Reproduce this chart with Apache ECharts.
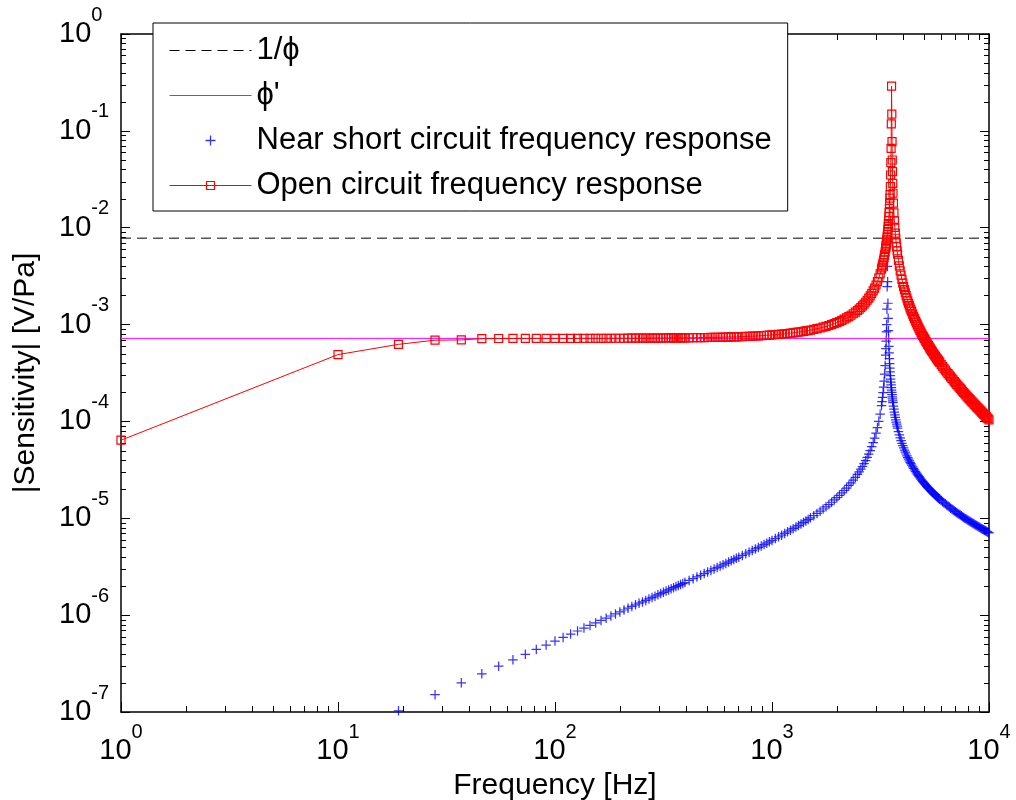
<!DOCTYPE html>
<html>
<head>
<meta charset="utf-8">
<title>Sensitivity</title>
<script src="https://cdn.jsdelivr.net/npm/echarts@6.0.0/dist/echarts.min.js"></script>
<style>
    html, body { margin: 0; padding: 0; background: #fff; }
    #chart { width: 1016px; height: 800px; }
</style>
</head>
<body>
<div id="chart"></div>
<script>
var FONT = '"Liberation Sans", Arial, Helvetica, sans-serif';

// 频率 (Hz)
var freq = [
    1, 10, 19, 28, 37, 46, 55, 64, 73, 82, 91, 100, 109, 118, 127, 136, 145, 154, 163, 172, 181, 190, 199, 208, 217, 226, 235, 244, 253, 262, 271, 280, 289, 298, 307, 316, 325, 334, 343, 352, 361, 370, 379, 388, 397,
    415, 433, 451, 469, 487, 505, 523, 541, 559, 577, 595, 613, 631, 649, 667, 685, 703,
    730, 757, 784, 811, 838, 865, 892, 919, 946, 973, 1000,
    1036, 1072, 1108, 1144, 1180, 1216, 1252, 1288, 1324, 1360, 1396, 1432, 1468, 1504,
    1558, 1612, 1666, 1720, 1774, 1828, 1882, 1936, 1990, 2044, 2098, 2152, 2206, 2260, 2314, 2368, 2422, 2476,
    2521, 2566, 2611, 2656, 2701, 2746, 2791, 2836, 2881, 2926, 2971, 3016, 3061, 3106, 3151, 3196,
    3214, 3232, 3250, 3268, 3286, 3304, 3322, 3340,
    3349, 3358, 3367, 3376, 3385, 3394, 3403, 3412, 3421, 3430, 3439, 3448, 3457, 3466, 3475, 3484, 3493, 3502, 3511, 3520, 3529, 3538, 3547, 3556, 3565, 3574, 3583, 3592, 3601, 3610,
    3628, 3646, 3664, 3682, 3700, 3718, 3736, 3754, 3772, 3790,
    3826, 3862, 3898, 3934, 3970, 4006, 4042, 4078, 4114, 4150, 4186, 4222, 4258, 4294, 4330, 4366, 4402,
    4447, 4492, 4537, 4582, 4627, 4672, 4717, 4762, 4807, 4852, 4897, 4942, 4987, 5032, 5077, 5122, 5167, 5212, 5257, 5302, 5347, 5392, 5437, 5482, 5527, 5572, 5617, 5662, 5707, 5752, 5797, 5842, 5887, 5932,
    6022, 6112, 6202, 6292, 6382, 6472, 6562, 6652, 6742, 6832, 6922, 7012, 7102, 7192, 7282, 7372, 7462, 7552, 7642, 7732, 7822, 7912, 8002, 8092, 8182, 8272, 8362, 8452, 8542, 8632, 8722, 8812, 8902, 8992, 9082, 9172, 9262, 9352, 9442, 9532, 9622, 9712, 9802, 9892, 10000
];

// Open circuit frequency response (V/Pa)
var openResp = [
    6.4e-5, 4.9e-4, 6.25e-4, 6.9e-4, 6.95e-4, 7.15e-4, 7.18e-4, 7.19e-4, 7.19e-4, 7.2e-4, 7.2e-4, 7.2e-4, 7.2e-4, 7.2e-4, 7.2e-4, 7.21e-4, 7.21e-4, 7.21e-4, 7.21e-4, 7.21e-4, 7.22e-4, 7.22e-4, 7.22e-4, 7.22e-4, 7.23e-4, 7.23e-4, 7.23e-4, 7.24e-4, 7.24e-4, 7.24e-4, 7.25e-4, 7.25e-4, 7.25e-4, 7.26e-4, 7.26e-4, 7.27e-4, 7.27e-4, 7.28e-4, 7.28e-4, 7.28e-4, 7.29e-4, 7.29e-4, 7.29e-4, 7.3e-4, 7.3e-4,
    7.3e-4, 7.31e-4, 7.32e-4, 7.33e-4, 7.34e-4, 7.35e-4, 7.36e-4, 7.37e-4, 7.38e-4, 7.39e-4, 7.41e-4, 7.42e-4, 7.43e-4, 7.45e-4, 7.46e-4, 7.48e-4, 7.49e-4,
    7.52e-4, 7.54e-4, 7.57e-4, 7.59e-4, 7.62e-4, 7.65e-4, 7.68e-4, 7.71e-4, 7.75e-4, 7.78e-4, 7.82e-4,
    7.87e-4, 7.92e-4, 7.97e-4, 8.03e-4, 8.09e-4, 8.15e-4, 8.22e-4, 8.29e-4, 8.36e-4, 8.43e-4, 8.51e-4, 8.59e-4, 8.68e-4, 8.77e-4,
    8.91e-4, 9.06e-4, 9.22e-4, 9.4e-4, 9.58e-4, 9.78e-4, 1.0e-3, 1.023e-3, 1.048e-3, 1.075e-3, 1.104e-3, 1.136e-3, 1.17e-3, 1.207e-3, 1.248e-3, 1.293e-3, 1.342e-3, 1.397e-3,
    1.447e-3, 1.501e-3, 1.561e-3, 1.627e-3, 1.701e-3, 1.782e-3, 1.873e-3, 1.976e-3, 2.093e-3, 2.227e-3, 2.381e-3, 2.562e-3, 2.775e-3, 3.032e-3, 3.345e-3, 3.737e-3,
    3.922e-3, 4.129e-3, 4.359e-3, 4.618e-3, 4.912e-3, 5.248e-3, 5.635e-3, 6.087e-3,
    6.34e-3, 6.62e-3, 6.92e-3, 7.26e-3, 7.63e-3, 8.04e-3, 8.5e-3, 9.02e-3, 9.6e-3, 1.03e-2, 1.1e-2, 1.19e-2, 1.3e-2, 1.43e-2, 1.58e-2, 1.77e-2, 2.02e-2, 2.2e-2, 2.65e-2, 3.5e-2, 4.7e-2, 6.6e-2, 0.118, 0.29, 0.149, 7.73e-2, 5.0e-2, 3.8e-2, 2.87e-2, 2.27e-2,
    1.79e-2, 1.42e-2, 1.18e-2, 1.01e-2, 8.78e-3, 7.78e-3, 6.98e-3, 6.33e-3, 5.78e-3, 5.32e-3,
    4.59e-3, 4.03e-3, 3.58e-3, 3.23e-3, 2.93e-3, 2.68e-3, 2.47e-3, 2.29e-3, 2.13e-3, 1.99e-3, 1.87e-3, 1.76e-3, 1.66e-3, 1.57e-3, 1.49e-3, 1.42e-3, 1.36e-3,
    1.28e-3, 1.21e-3, 1.15e-3, 1.09e-3, 1.04e-3, 9.93e-4, 9.49e-4, 9.09e-4, 8.71e-4, 8.37e-4, 8.04e-4, 7.74e-4, 7.46e-4, 7.19e-4, 6.94e-4, 6.71e-4, 6.49e-4, 6.28e-4, 6.08e-4, 5.89e-4, 5.72e-4, 5.55e-4, 5.39e-4, 5.24e-4, 5.09e-4, 4.95e-4, 4.82e-4, 4.69e-4, 4.57e-4, 4.46e-4, 4.35e-4, 4.24e-4, 4.14e-4, 4.04e-4,
    3.86e-4, 3.69e-4, 3.53e-4, 3.38e-4, 3.24e-4, 3.12e-4, 3.0e-4, 2.88e-4, 2.78e-4, 2.68e-4, 2.58e-4, 2.5e-4, 2.41e-4, 2.33e-4, 2.26e-4, 2.19e-4, 2.12e-4, 2.05e-4, 1.99e-4, 1.93e-4, 1.88e-4, 1.82e-4, 1.77e-4, 1.72e-4, 1.68e-4, 1.63e-4, 1.59e-4, 1.55e-4, 1.51e-4, 1.47e-4, 1.44e-4, 1.4e-4, 1.37e-4, 1.34e-4, 1.31e-4, 1.28e-4, 1.25e-4, 1.22e-4, 1.19e-4, 1.17e-4, 1.14e-4, 1.12e-4, 1.09e-4, 1.07e-4, 1.04e-4
];

// Near short circuit frequency response (V/Pa)，1 Hz 和 10 Hz 在坐标范围以下
var shortResp = [
    null, null, 1.03e-7, 1.51e-7, 2.0e-7, 2.48e-7, 2.97e-7, 3.46e-7, 3.94e-7, 4.43e-7, 4.91e-7, 5.4e-7, 5.89e-7, 6.37e-7, 6.86e-7, 7.35e-7, 7.83e-7, 8.32e-7, 8.82e-7, 9.31e-7, 9.8e-7, 1.03e-6, 1.08e-6, 1.13e-6, 1.18e-6, 1.23e-6, 1.28e-6, 1.33e-6, 1.37e-6, 1.42e-6, 1.47e-6, 1.52e-6, 1.57e-6, 1.62e-6, 1.67e-6, 1.72e-6, 1.77e-6, 1.82e-6, 1.87e-6, 1.92e-6, 1.97e-6, 2.02e-6, 2.07e-6, 2.12e-6, 2.17e-6,
    2.28e-6, 2.38e-6, 2.48e-6, 2.58e-6, 2.69e-6, 2.79e-6, 2.89e-6, 3.0e-6, 3.1e-6, 3.21e-6, 3.31e-6, 3.42e-6, 3.53e-6, 3.64e-6, 3.75e-6, 3.86e-6, 3.97e-6,
    4.13e-6, 4.3e-6, 4.47e-6, 4.64e-6, 4.82e-6, 4.99e-6, 5.17e-6, 5.35e-6, 5.54e-6, 5.72e-6, 5.91e-6,
    6.17e-6, 6.43e-6, 6.69e-6, 6.97e-6, 7.24e-6, 7.53e-6, 7.82e-6, 8.12e-6, 8.42e-6, 8.74e-6, 9.06e-6, 9.4e-6, 9.74e-6, 1.01e-5,
    1.064e-5, 1.122e-5, 1.183e-5, 1.247e-5, 1.315e-5, 1.387e-5, 1.464e-5, 1.545e-5, 1.633e-5, 1.726e-5, 1.827e-5, 1.936e-5, 2.054e-5, 2.182e-5, 2.323e-5, 2.478e-5, 2.649e-5, 2.839e-5,
    3.015e-5, 3.209e-5, 3.425e-5, 3.666e-5, 3.938e-5, 4.246e-5, 4.599e-5, 5.007e-5, 5.484e-5, 6.051e-5, 6.735e-5, 7.576e-5, 8.637e-5, 1.002e-4, 1.189e-4, 1.457e-4,
    1.6e-4, 1.772e-4, 1.985e-4, 2.254e-4, 2.605e-4, 3.082e-4, 3.769e-4, 4.842e-4,
    5.64e-4, 6.75e-4, 8.4e-4, 1.0e-3, 1.44e-3, 2.46e-3, 4.0e-3, 2.77e-3, 1.66e-3, 1.16e-3, 8.65e-4, 7.16e-4, 5.95e-4, 5.09e-4, 4.45e-4, 3.96e-4, 3.56e-4, 3.24e-4, 2.97e-4, 2.74e-4, 2.55e-4, 2.38e-4, 2.23e-4, 2.1e-4, 1.99e-4, 1.89e-4, 1.79e-4, 1.71e-4, 1.63e-4, 1.56e-4,
    1.44e-4, 1.34e-4, 1.25e-4, 1.17e-4, 1.1e-4, 1.04e-4, 9.86e-5, 9.38e-5, 8.94e-5, 8.54e-5,
    7.85e-5, 7.26e-5, 6.76e-5, 6.33e-5, 5.95e-5, 5.62e-5, 5.32e-5, 5.06e-5, 4.82e-5, 4.61e-5, 4.41e-5, 4.24e-5, 4.07e-5, 3.92e-5, 3.78e-5, 3.66e-5, 3.54e-5,
    3.4e-5, 3.27e-5, 3.16e-5, 3.05e-5, 2.95e-5, 2.86e-5, 2.77e-5, 2.69e-5, 2.61e-5, 2.54e-5, 2.47e-5, 2.41e-5, 2.35e-5, 2.29e-5, 2.24e-5, 2.19e-5, 2.14e-5, 2.09e-5, 2.05e-5, 2.01e-5, 1.97e-5, 1.93e-5, 1.89e-5, 1.86e-5, 1.82e-5, 1.79e-5, 1.76e-5, 1.73e-5, 1.7e-5, 1.67e-5, 1.65e-5, 1.62e-5, 1.6e-5, 1.57e-5,
    1.53e-5, 1.48e-5, 1.44e-5, 1.41e-5, 1.37e-5, 1.34e-5, 1.31e-5, 1.27e-5, 1.25e-5, 1.22e-5, 1.19e-5, 1.17e-5, 1.14e-5, 1.12e-5, 1.1e-5, 1.08e-5, 1.06e-5, 1.04e-5, 1.02e-5, 1.0e-5, 9.87e-6, 9.71e-6, 9.55e-6, 9.4e-6, 9.25e-6, 9.11e-6, 8.97e-6, 8.84e-6, 8.71e-6, 8.58e-6, 8.46e-6, 8.35e-6, 8.23e-6, 8.12e-6, 8.02e-6, 7.91e-6, 7.81e-6, 7.71e-6, 7.62e-6, 7.52e-6, 7.43e-6, 7.35e-6, 7.26e-6, 7.18e-6, 7.08e-6
];

// 水平参考线
var invPhi = 7.8e-3;
var phiPrime = 7.2e-4;

// 坐标范围和次刻度
var xRange = [1, 10000];
var yRange = [1e-7, 1];
var xDecades = [1, 10, 100, 1000];
var yDecades = [1e-7, 1e-6, 1e-5, 1e-4, 1e-3, 1e-2, 1e-1];
var minorSteps = [2, 3, 4, 5, 6, 7, 8, 9];

var seriesNames = ['1/\u03d5', '\u03d5\'', 'Near short circuit frequency response', 'Open circuit frequency response'];

;(function(){
    var chart = echarts.init(document.getElementById('chart'));

    var openData = [], shortData = [];
    for (var i = 0; i < freq.length; i++) {
        if (openResp[i] != null) openData.push([freq[i], openResp[i]]);
        if (shortResp[i] != null) shortData.push([freq[i], shortResp[i]]);
    }

    var minorX = [], minorY = [];
    xDecades.forEach(function (d) {
        minorSteps.forEach(function (k) { minorX.push([k * d, yRange[1]]); });
    });
    yDecades.forEach(function (d) {
        minorSteps.forEach(function (k) { minorY.push([xRange[0], k * d]); });
    });

    // 10^n 形式的刻度标签
    function powLabel(v) {
        var p = Math.round(Math.log(v) / Math.LN10);
        return '{b|10}{e|' + p + '}';
    }
    var rich = {
        b: { fontSize: 29, fontFamily: FONT, color: '#000', verticalAlign: 'middle' },
        e: { fontSize: 20, fontFamily: FONT, color: '#000', verticalAlign: 'middle', padding: [0, 0, 38, 0] }
    };

    var lineBlack = { show: true, lineStyle: { color: '#000', width: 1.5 } };
    function inTick(len) {
        return { show: true, inside: true, length: len, lineStyle: { color: '#000', width: 1 } };
    }

    var tickStyle = { stroke: '#000', lineWidth: 1 };
    function minorTickX(params, api) {
        var cs = params.coordSys;
        var x = Math.round(api.coord([api.value(0), api.value(1)])[0]) + 0.5;
        var yb = cs.y + cs.height, yt = cs.y;
        return { type: 'group', children: [
            { type: 'line', shape: { x1: x, y1: yb, x2: x, y2: yb - 6 }, style: tickStyle },
            { type: 'line', shape: { x1: x, y1: yt, x2: x, y2: yt + 6 }, style: tickStyle }
        ]};
    }
    function minorTickY(params, api) {
        var cs = params.coordSys;
        var y = Math.round(api.coord([api.value(0), api.value(1)])[1]) + 0.5;
        var xl = cs.x, xr = cs.x + cs.width;
        return { type: 'group', children: [
            { type: 'line', shape: { x1: xl, y1: y, x2: xl + 5, y2: y }, style: tickStyle },
            { type: 'line', shape: { x1: xr, y1: y, x2: xr - 5, y2: y }, style: tickStyle }
        ]};
    }

    var plusPath = 'path://M4.35 0H5.65V4.35H10V5.65H5.65V10H4.35V5.65H0V4.35H4.35Z';
    var clear = 'rgba(0,0,0,0)';

    var option = {
        animation: false,
        backgroundColor: '#fff',
        grid: {
            left: 121,
            right: 27,
            top: 34,
            bottom: 88,
            containLabel: false,
            outerBoundsMode: 'none'
        },
        legend: {
            data: seriesNames,
            orient: 'vertical',
            left: 153,
            top: 23,
            padding: [12, 16, 10, 16],
            itemWidth: 82,
            itemHeight: 10,
            itemGap: 14,
            backgroundColor: '#fff',
            borderColor: '#000',
            borderWidth: 1,
            borderRadius: 0,
            selectedMode: false,
            textStyle: { fontSize: 31, lineHeight: 31, fontFamily: FONT, color: '#000' },
            itemStyle: { borderWidth: 1.2 },
            lineStyle: { width: 1 }
        },
        xAxis: [{
            type: 'log',
            logBase: 10,
            min: xRange[0],
            max: xRange[1],
            splitNumber: 4,
            name: 'Frequency [Hz]',
            nameLocation: 'middle',
            nameGap: 50,
            nameTextStyle: { fontSize: 30, fontFamily: FONT, color: '#000' },
            axisLine: lineBlack,
            axisTick: inTick(10),
            splitLine: { show: false },
            axisLabel: { margin: 10, formatter: powLabel, rich: rich, showMinLabel: true, showMaxLabel: true }
        }, {
            type: 'log',
            logBase: 10,
            position: 'top',
            min: xRange[0],
            max: xRange[1],
            splitNumber: 4,
            axisLine: lineBlack,
            axisTick: inTick(10),
            splitLine: { show: false },
            axisLabel: { show: false }
        }],
        yAxis: [{
            type: 'log',
            logBase: 10,
            min: yRange[0],
            max: yRange[1],
            splitNumber: 7,
            name: '|Sensitivity| [V/Pa]',
            nameLocation: 'middle',
            nameGap: 80,
            nameRotate: 90,
            nameTextStyle: { fontSize: 30, fontFamily: FONT, color: '#000' },
            axisLine: lineBlack,
            axisTick: inTick(9),
            splitLine: { show: false },
            axisLabel: { margin: 62, align: 'left', formatter: powLabel, rich: rich, showMinLabel: true, showMaxLabel: true }
        }, {
            type: 'log',
            logBase: 10,
            position: 'right',
            min: yRange[0],
            max: yRange[1],
            splitNumber: 7,
            axisLine: lineBlack,
            axisTick: inTick(9),
            splitLine: { show: false },
            axisLabel: { show: false }
        }],
        series: [{
            name: seriesNames[0],
            type: 'line',
            data: [[xRange[0], invPhi], [xRange[1], invPhi]],
            symbol: 'none',
            itemStyle: { color: clear, borderColor: clear },
            lineStyle: { color: '#000', width: 1, type: [10, 6] },
            silent: true
        }, {
            name: seriesNames[1],
            type: 'line',
            data: [[xRange[0], phiPrime], [xRange[1], phiPrime]],
            symbol: 'none',
            itemStyle: { color: clear, borderColor: clear },
            lineStyle: { color: '#ff00ff', width: 1 },
            silent: true
        }, {
            name: seriesNames[2],
            type: 'scatter',
            data: shortData,
            symbol: plusPath,
            symbolSize: 9.5,
            itemStyle: { color: '#0000ff', borderColor: clear, borderWidth: 0 },
            silent: true
        }, {
            name: seriesNames[3],
            type: 'line',
            data: openData,
            symbol: 'rect',
            symbolSize: 8,
            showSymbol: true,
            showAllSymbol: true,
            itemStyle: { color: clear, borderColor: '#ff0000', borderWidth: 1.2 },
            lineStyle: { color: '#ff0000', width: 1 },
            silent: true
        }, {
            name: 'minorX',
            type: 'custom',
            data: minorX,
            renderItem: minorTickX,
            silent: true
        }, {
            name: 'minorY',
            type: 'custom',
            data: minorY,
            renderItem: minorTickY,
            silent: true
        }]
    };

    chart.setOption(option);
})()
</script>
</body>
</html>
